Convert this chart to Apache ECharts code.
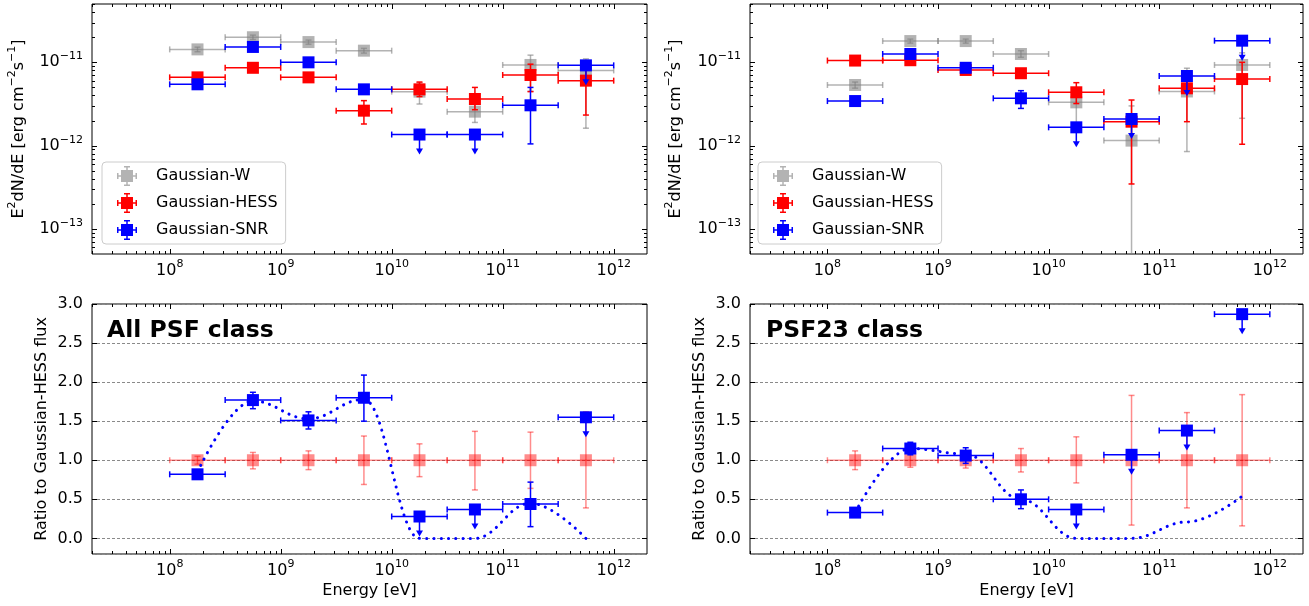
<!DOCTYPE html>
<html><head><meta charset="utf-8">
<script src="https://cdn.jsdelivr.net/npm/echarts@6/dist/echarts.min.js"></script>
<style>html,body{margin:0;padding:0;background:#fff}#c{width:1309px;height:606px}</style>
</head><body><div id="c"></div>
<script>
// ---------------- DATA ----------------
const energyCenter = [1.78e8, 5.62e8, 1.78e9, 5.62e9, 1.78e10, 5.62e10, 1.78e11, 5.62e11];
const energyLow    = [1.0e8, 3.16e8, 1.0e9, 3.16e9, 1.0e10, 3.16e10, 1.0e11, 3.16e11];
const energyHigh   = [3.16e8, 1.0e9, 3.16e9, 1.0e10, 3.16e10, 1.0e11, 3.16e11, 1.0e12];

// All PSF class: E^2 dN/dE [erg cm^-2 s^-1]
const allW      = [1.43e-11, 2.0e-11, 1.75e-11, 1.38e-11, 4.45e-12, 2.56e-12, 9.3e-12, 8.0e-12];
const allWLow   = [1.34e-11, 1.88e-11, 1.65e-11, 1.29e-11, 3.16e-12, 1.9e-12, 4.5e-12, 1.62e-12];
const allWHigh  = [1.52e-11, 2.12e-11, 1.85e-11, 1.47e-11, 5.7e-12, 3.4e-12, 1.22e-11, 1.1e-11];
const allHESS     = [6.6e-12, 8.6e-12, 6.6e-12, 2.63e-12, 4.74e-12, 3.63e-12, 7.05e-12, 6.03e-12];
const allHESSLow  = [6.1e-12, 8.0e-12, 6.1e-12, 1.82e-12, 3.88e-12, 2.7e-12, 4.45e-12, 2.33e-12];
const allHESSHigh = [7.1e-12, 9.2e-12, 7.1e-12, 3.47e-12, 5.8e-12, 5.0e-12, 9.5e-12, 8.5e-12];
const allSNR      = [5.45e-12, 1.53e-11, 1.0e-11, 4.74e-12, 1.36e-12, 1.36e-12, 3.05e-12, 9.2e-12];
const allSNRLow   = [5.1e-12, 1.43e-11, 9.4e-12, 4.3e-12, 1.36e-12, 1.36e-12, 1.05e-12, 9.2e-12];
const allSNRHigh  = [5.8e-12, 1.63e-11, 1.06e-11, 5.2e-12, 1.36e-12, 1.36e-12, 5.0e-12, 9.2e-12];
const allSNRUpperLimit = [0, 0, 0, 0, 1, 1, 0, 1];

// PSF23 class
const psfW      = [5.35e-12, 1.8e-11, 1.8e-11, 1.26e-11, 3.31e-12, 1.15e-12, 4.47e-12, 9.3e-12];
const psfWLow   = [4.9e-12, 1.7e-11, 1.7e-11, 1.15e-11, 1.8e-12, 0, 8.5e-13, 2.13e-12];
const psfWHigh  = [5.8e-12, 1.9e-11, 1.9e-11, 1.38e-11, 4.5e-12, 3.0e-12, 8.5e-12, 1.3e-11];
const psfHESS     = [1.05e-11, 1.06e-11, 8.1e-12, 7.4e-12, 4.37e-12, 1.94e-12, 4.88e-12, 6.3e-12];
const psfHESSLow  = [9.7e-12, 9.8e-12, 7.5e-12, 6.9e-12, 3.2e-12, 3.47e-13, 1.94e-12, 1.04e-12];
const psfHESSHigh = [1.13e-11, 1.14e-11, 8.7e-12, 7.9e-12, 5.7e-12, 3.53e-12, 7.9e-12, 1.0e-11];
const psfSNR      = [3.43e-12, 1.26e-11, 8.6e-12, 3.7e-12, 1.66e-12, 2.09e-12, 6.85e-12, 1.82e-11];
const psfSNRLow   = [3.2e-12, 1.18e-11, 8.1e-12, 2.8e-12, 1.66e-12, 2.09e-12, 6.85e-12, 1.82e-11];
const psfSNRHigh  = [3.7e-12, 1.34e-11, 9.1e-12, 4.57e-12, 1.66e-12, 2.09e-12, 6.85e-12, 1.82e-11];
const psfSNRUpperLimit = [0, 0, 0, 0, 1, 1, 1, 1];

// Ratio to Gaussian-HESS flux
const allRatioHESS     = [1, 1, 1, 1, 1, 1, 1, 1];
const allRatioHESSLow  = [0.95, 0.89, 0.88, 0.69, 0.79, 0.62, 0.64, 0.39];
const allRatioHESSHigh = [1.05, 1.10, 1.12, 1.31, 1.21, 1.37, 1.36, 1.62];
const allRatioSNR      = [0.82, 1.77, 1.51, 1.80, 0.28, 0.37, 0.44, 1.55];
const allRatioSNRLow   = [0.78, 1.66, 1.40, 1.50, 0.28, 0.37, 0.15, 1.55];
const allRatioSNRHigh  = [0.86, 1.87, 1.62, 2.09, 0.28, 0.37, 0.72, 1.55];
const allRatioSNRUpperLimit = [0, 0, 0, 0, 1, 1, 0, 1];
const allRatioModel    = [0.85, 1.76, 1.53, 1.78, 0, 0, 0.45, 0];

const psfRatioHESS     = [1, 1, 1, 1, 1, 1, 1, 1];
const psfRatioHESSLow  = [0.88, 0.91, 0.90, 0.85, 0.71, 0.17, 0.39, 0.16];
const psfRatioHESSHigh = [1.12, 1.09, 1.10, 1.15, 1.30, 1.83, 1.61, 1.84];
const psfRatioSNR      = [0.33, 1.15, 1.06, 0.50, 0.37, 1.07, 1.38, 2.87];
const psfRatioSNRLow   = [0.30, 1.07, 0.96, 0.38, 0.37, 1.07, 1.38, 2.87];
const psfRatioSNRHigh  = [0.36, 1.23, 1.16, 0.62, 0.37, 1.07, 1.38, 2.87];
const psfRatioSNRUpperLimit = [0, 0, 0, 0, 1, 1, 1, 1];
const psfRatioModel    = [0.33, 1.15, 1.08, 0.50, 0, 0, 0.21, 0.54];

const seriesNames = ['Gaussian-W', 'Gaussian-HESS', 'Gaussian-SNR'];
const xMajorTicks = [8, 9, 10, 11, 12];        // log10(E)
const fluxMajorTicks = [-13, -12, -11];        // log10(flux)
const ratioTicks = [0, 0.5, 1.0, 1.5, 2.0, 2.5, 3.0];

// ---------------- BUILD ----------------
const FONT = 'DejaVu Sans';
const L = Math.log10;
const X_MIN = 7.3, X_MAX = 12.3, F_MIN = -13.3, F_MAX = -10.3, R_MIN = -0.2, R_MAX = 3.0;
function minorLog(min, max) {
  const out = [];
  for (let n = Math.floor(min) - 1; n <= Math.ceil(max); n++) {
    for (let k = 2; k <= 9; k++) { const v = n + L(k); if (v > min && v < max) out.push(v); }
  }
  return out;
}
const supRich = {
  b: {fontSize: 16, fontFamily: FONT, color: '#000'},
  s: {fontSize: 11, fontFamily: FONT, color: '#000', padding: [0, 0, 12, 0]}
};
function powLabel(v) { const e = Math.round(v); return '{b|10}{s|' + (e < 0 ? '\u2212' + (-e) : e) + '}'; }

const grids = [
  {left: 92, top: 4, width: 555, height: 250},
  {left: 750, top: 4, width: 553, height: 250},
  {left: 92, top: 304, width: 555, height: 250},
  {left: 750, top: 304, width: 553, height: 250}
].map(g => Object.assign(g, {show: true, borderColor: '#000', borderWidth: 1, backgroundColor: 'transparent', containLabel: false, outerBoundsMode: 'none'}));

function xAxisFor(g, withName) {
  const a = {type: 'value', gridIndex: g, min: X_MIN, max: X_MAX, position: 'bottom',
    axisLine: {show: false, onZero: false}, axisTick: {show: false}, splitLine: {show: false},
    axisLabel: {show: true, customValues: xMajorTicks, formatter: powLabel, rich: supRich, margin: 5},
    nameMoveOverlap: false};
  if (withName) {
    a.name = 'Energy [eV]'; a.nameLocation = 'middle'; a.nameGap = 29;
    a.nameTextStyle = {fontSize: 16, fontFamily: FONT, color: '#000'};
  }
  return a;
}
function yFluxFor(g, gap) {
  return {type: 'value', gridIndex: g, min: F_MIN, max: F_MAX, position: 'left',
    axisLine: {show: false, onZero: false}, axisTick: {show: false}, splitLine: {show: false},
    axisLabel: {show: true, customValues: fluxMajorTicks, formatter: powLabel, rich: supRich, margin: 9},
    name: '{t|E}{s|2}{t|dN/dE [erg cm}{s|\u22122}{t|s}{s|\u22121}{t|]}',
    nameLocation: 'middle', nameGap: gap, nameRotate: 90, nameMoveOverlap: false,
    nameTextStyle: {fontSize: 16, fontFamily: FONT, color: '#000', rich: {
      t: {fontSize: 16, fontFamily: FONT, color: '#000'},
      s: {fontSize: 11, fontFamily: FONT, color: '#000', padding: [0, 0, 12, 0]}}}};
}
function yRatioFor(g) {
  return {type: 'value', gridIndex: g, min: R_MIN, max: R_MAX, position: 'left',
    axisLine: {show: false, onZero: false}, axisTick: {show: false},
    axisLabel: {show: true, customValues: ratioTicks, formatter: v => v.toFixed(1), fontSize: 16, fontFamily: FONT, color: '#000', margin: 9},
    splitLine: {show: true, lineStyle: {color: '#8a8a8a', width: 1, type: [3, 2]}},
    name: 'Ratio to Gaussian-HESS flux', nameLocation: 'middle', nameGap: 42, nameRotate: 90, nameMoveOverlap: false,
    nameTextStyle: {fontSize: 16, fontFamily: FONT, color: '#000'}};
}
const xAxes = [xAxisFor(0, false), xAxisFor(1, false), xAxisFor(2, true), xAxisFor(3, true)];
const yAxes = [yFluxFor(0, 62), yFluxFor(1, 63), yRatioFor(2), yRatioFor(3)];

function items(vals, lo, hi, ul, logY) {
  const f = logY ? (t => (t > 0 ? L(t) : -30)) : (t => t);
  return vals.map((v, i) => [L(energyCenter[i]), f(v), L(energyLow[i]), L(energyHigh[i]), f(lo[i]), f(hi[i]), ul ? ul[i] : 0]);
}
function render(color, opacity) {
  return function (params, api) {
    const y = api.value(1);
    const c = api.coord([api.value(0), y]);
    const xl = api.coord([api.value(2), y])[0];
    const xh = api.coord([api.value(3), y])[0];
    const yl = api.coord([api.value(0), api.value(4)])[1];
    const yh = api.coord([api.value(0), api.value(5)])[1];
    const st = {stroke: color, lineWidth: 1.5, opacity: opacity, fill: null};
    const ch = [];
    const ln = (x1, y1, x2, y2) => ch.push({type: 'line', shape: {x1, y1, x2, y2}, style: st});
    ln(xl, c[1], xh, c[1]); ln(xl, c[1] - 3, xl, c[1] + 3); ln(xh, c[1] - 3, xh, c[1] + 3);
    if (api.value(6)) {
      const tip = c[1] + 20;
      ln(c[0], c[1], c[0], tip - 4);
      ch.push({type: 'polygon', shape: {points: [[c[0] - 3.5, tip - 6], [c[0] + 3.5, tip - 6], [c[0], tip]]}, style: {fill: color, opacity: opacity}});
    } else {
      ln(c[0], yl, c[0], yh); ln(c[0] - 3, yl, c[0] + 3, yl); ln(c[0] - 3, yh, c[0] + 3, yh);
    }
    ch.push({type: 'rect', shape: {x: c[0] - 6, y: c[1] - 6, width: 12, height: 12}, style: {fill: color, opacity: opacity}});
    return {type: 'group', children: ch};
  };
}
function errSeries(name, g, data, color, opacity, z) {
  return {type: 'custom', name, xAxisIndex: g, yAxisIndex: g, data, clip: true, z,
    encode: {x: 0, y: 1}, itemStyle: {color, opacity}, renderItem: render(color, opacity), silent: true};
}
function modelLine(name, g, vals) {
  return {type: 'line', name, xAxisIndex: g, yAxisIndex: g, z: 3, symbol: 'none', smooth: 0.4, smoothMonotone: 'x',
    data: vals.map((v, i) => [L(energyCenter[i]), v]), silent: true,
    lineStyle: {color: '#0000ff', width: 3, type: [0.1, 7.2], cap: 'round'}};
}
const GRAY = '#808080', RED = '#ff0000', BLUE = '#0000ff';

const series = [
  errSeries('Gaussian-W', 0, items(allW, allWLow, allWHigh, null, true), GRAY, 0.6, 2),
  errSeries('Gaussian-HESS', 0, items(allHESS, allHESSLow, allHESSHigh, null, true), RED, 1, 3),
  errSeries('Gaussian-SNR', 0, items(allSNR, allSNRLow, allSNRHigh, allSNRUpperLimit, true), BLUE, 1, 4),
  errSeries('Gaussian-W', 1, items(psfW, psfWLow, psfWHigh, null, true), GRAY, 0.6, 2),
  errSeries('Gaussian-HESS', 1, items(psfHESS, psfHESSLow, psfHESSHigh, null, true), RED, 1, 3),
  errSeries('Gaussian-SNR', 1, items(psfSNR, psfSNRLow, psfSNRHigh, psfSNRUpperLimit, true), BLUE, 1, 4),
  errSeries('ratio-HESS-all', 2, items(allRatioHESS, allRatioHESSLow, allRatioHESSHigh, null, false), RED, 0.45, 2),
  modelLine('model-all', 2, allRatioModel),
  errSeries('ratio-SNR-all', 2, items(allRatioSNR, allRatioSNRLow, allRatioSNRHigh, allRatioSNRUpperLimit, false), BLUE, 1, 4),
  errSeries('ratio-HESS-psf', 3, items(psfRatioHESS, psfRatioHESSLow, psfRatioHESSHigh, null, false), RED, 0.45, 2),
  modelLine('model-psf', 3, psfRatioModel),
  errSeries('ratio-SNR-psf', 3, items(psfRatioSNR, psfRatioSNRLow, psfRatioSNRHigh, psfRatioSNRUpperLimit, false), BLUE, 1, 4)
];

const legendIcon = 'path://M0,9.25h20v1.5h-20z M0,7h1.5v6h-1.5z M18.5,7h1.5v6h-1.5z M9.25,0h1.5v20h-1.5z M7,0h6v1.5h-6z M7,18.5h6v1.5h-6z M4,4h12v12h-12z';
function legendAt(left) {
  return {data: seriesNames.map(n => ({name: n, icon: legendIcon})), orient: 'vertical', left, top: 162,
    itemWidth: 48, itemHeight: 20, itemGap: 7, padding: [4, 8, 4, 15], symbolKeepAspect: true,
    backgroundColor: '#fff', borderColor: '#cccccc', borderWidth: 1, borderRadius: 4, selectedMode: false,
    textStyle: {fontSize: 16, fontFamily: FONT, color: '#000'}};
}

const option = {
  animation: false,
  backgroundColor: '#fff',
  textStyle: {fontFamily: FONT},
  grid: grids,
  xAxis: xAxes,
  yAxis: yAxes,
  legend: [legendAt(102), legendAt(758)],
  title: [
    {text: 'All PSF class', left: 107, top: 319, padding: 0, textStyle: {fontSize: 23.5, fontWeight: 'bold', fontFamily: FONT, color: '#000'}},
    {text: 'PSF23 class', left: 766, top: 319, padding: 0, textStyle: {fontSize: 23.5, fontWeight: 'bold', fontFamily: FONT, color: '#000'}}
  ],
  series
};
const chart = echarts.init(document.getElementById('c'));
chart.setOption(option);

// Inward ticks on all four sides of each panel, positioned through each panel's own axes.
const tickEls = [];
function addTicks(g, xMin, xMax, yMin, yMax, xMajor, xMinor, yMajor, yMinor) {
  const xPix = v => chart.convertToPixel({xAxisIndex: g}, v);
  const yPix = v => chart.convertToPixel({yAxisIndex: g}, v);
  const lft = xPix(xMin), rgt = xPix(xMax), bot = yPix(yMin), top = yPix(yMax);
  const st = {stroke: '#000', lineWidth: 1};
  const push = (x1, y1, x2, y2) => tickEls.push({type: 'line', silent: true, z: 100, shape: {x1, y1, x2, y2}, style: st});
  const xt = (v, len) => { const x = Math.round(xPix(v)) + 0.5; push(x, bot, x, bot - len); push(x, top, x, top + len); };
  const yt = (v, len) => { const y = Math.round(yPix(v)) + 0.5; push(lft, y, lft + len, y); push(rgt, y, rgt - len, y); };
  xMajor.forEach(v => xt(v, 5)); xMinor.forEach(v => xt(v, 3));
  yMajor.forEach(v => yt(v, 5)); yMinor.forEach(v => yt(v, 3));
}
const xMinor = minorLog(X_MIN, X_MAX), fluxMinor = minorLog(F_MIN, F_MAX);
addTicks(0, X_MIN, X_MAX, F_MIN, F_MAX, xMajorTicks, xMinor, fluxMajorTicks, fluxMinor);
addTicks(1, X_MIN, X_MAX, F_MIN, F_MAX, xMajorTicks, xMinor, fluxMajorTicks, fluxMinor);
addTicks(2, X_MIN, X_MAX, R_MIN, R_MAX, xMajorTicks, xMinor, ratioTicks, []);
addTicks(3, X_MIN, X_MAX, R_MIN, R_MAX, xMajorTicks, xMinor, ratioTicks, []);
chart.setOption({graphic: {elements: tickEls}});
</script></body></html>
